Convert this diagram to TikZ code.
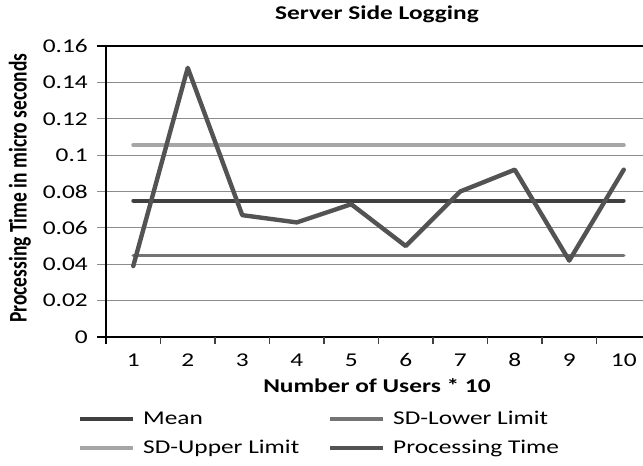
\documentclass[tikz,border=0pt]{standalone}
\usepackage{fontspec}
\setmainfont[FakeStretch=1.3]{Carlito}
\newfontfamily\plainfont{Carlito}
\usepackage{graphicx}
\usepackage{xcolor}
\usetikzlibrary{positioning}

\definecolor{darkline}{HTML}{404040}
\definecolor{midline}{HTML}{747474}
\definecolor{lightline}{HTML}{A6A6A6}
\definecolor{gridgray}{HTML}{8C8C8C}

\newcommand{\chartfont}{\fontsize{19.5}{20}\selectfont}

\begin{document}
\begin{tikzpicture}[x=1pt,y=1pt,
    every node/.style={inner sep=0pt, font=\chartfont},
    gridline/.style={draw=gridgray, line width=1.2pt},
    axisline/.style={draw=black, line width=2.2pt},
    tickline/.style={draw=darkline, line width=1.2pt},
    meanline/.style={draw=darkline, line width=3.8pt, line cap=round},
    lowerline/.style={draw=midline, line width=3.6pt, line cap=round},
    upperline/.style={draw=lightline, line width=4pt, line cap=round},
    timeline/.style={draw=darkline!90!white, line width=4.4pt, line cap=round, line join=round}]
    \useasboundingbox (0,0) rectangle (643,466);
    \fill[white] (0,0) rectangle (643,466);
    \def\xend{9.86}
    \begin{scope}[shift={(106,129)}, x=54.5pt, y=1818.75pt]
      % grid
      \draw[gridline] (-0.165,0.02) -- (\xend,0.02);
      \draw[gridline] (-0.165,0.04) -- (\xend,0.04);
      \draw[gridline] (-0.165,0.06) -- (\xend,0.06);
      \draw[gridline] (-0.165,0.08) -- (\xend,0.08);
      \draw[gridline] (-0.165,0.10) -- (\xend,0.10);
      \draw[gridline] (-0.165,0.12) -- (\xend,0.12);
      \draw[gridline] (-0.165,0.14) -- (\xend,0.14);
      \draw[axisline] (-0.165,0.16) -- (\xend,0.16);
      % axes
      \draw[axisline] (-0.165,0) -- (\xend,0);
      \draw[axisline] (0,-0.004) -- (0,0.16);
      \draw[tickline] (1,0) -- (1,-0.004);
      \draw[tickline] (2,0) -- (2,-0.004);
      \draw[tickline] (3,0) -- (3,-0.004);
      \draw[tickline] (4,0) -- (4,-0.004);
      \draw[tickline] (5,0) -- (5,-0.004);
      \draw[tickline] (6,0) -- (6,-0.004);
      \draw[tickline] (7,0) -- (7,-0.004);
      \draw[tickline] (8,0) -- (8,-0.004);
      \draw[tickline] (9,0) -- (9,-0.004);
      % y labels
      \node[anchor=east] (y0) at (-0.33,0) {0};
      \node[anchor=east] (y2) at (-0.33,0.02) {0.02};
      \node[anchor=east] (y4) at (-0.33,0.04) {0.04};
      \node[anchor=east] (y6) at (-0.33,0.06) {0.06};
      \node[anchor=east] (y8) at (-0.33,0.08) {0.08};
      \node[anchor=east] (y10) at (-0.33,0.10) {0.1};
      \node[anchor=east] (y12) at (-0.33,0.12) {0.12};
      \node[anchor=east] (y14) at (-0.33,0.14) {0.14};
      \node[anchor=east] (y16) at (-0.33,0.16) {0.16};
      % x labels
      \node[anchor=base] (x1) at (0.5,-0.0165) {1};
      \node[anchor=base] (x2) at (1.5,-0.0165) {2};
      \node[anchor=base] (x3) at (2.5,-0.0165) {3};
      \node[anchor=base] (x4) at (3.5,-0.0165) {4};
      \node[anchor=base] (x5) at (4.5,-0.0165) {5};
      \node[anchor=base] (x6) at (5.5,-0.0165) {6};
      \node[anchor=base] (x7) at (6.5,-0.0165) {7};
      \node[anchor=base] (x8) at (7.5,-0.0165) {8};
      \node[anchor=base] (x9) at (8.5,-0.0165) {9};
      \node[anchor=base] (x10) at (9.5,-0.0165) {10};
      % limits and mean
      \draw[upperline] (0.5,0.1055) -- (9.5,0.1055);
      \draw[meanline] (0.5,0.0749) -- (9.5,0.0749);
      \draw[lowerline] (0.5,0.0448) -- (9.5,0.0448);
      % measured times
      \draw[timeline] (0.5,0.039) -- (1.5,0.148) -- (2.5,0.067) -- (3.5,0.063)
        -- (4.5,0.073) -- (5.5,0.050) -- (6.5,0.080) -- (7.5,0.092)
        -- (8.5,0.042) -- (9.5,0.092);
    \end{scope}
    \node[anchor=base, font=\chartfont\bfseries] (title) at (377,446) {Server Side Logging};
    \node[anchor=base, font=\chartfont\bfseries] (xtitle) at (377,73) {Number of Users * 10};
    \node[rotate=90] (ytitle) at (20,278)
      {\plainfont\bfseries\scalebox{1}[1.3]{Processing Time in micro seconds}};
    % legend
    \node[anchor=base west] (meantxt) at (143,41) {Mean};
    \node[anchor=base west] (lowertxt) at (393,41) {SD-Lower Limit};
    \node[anchor=base west] (uppertxt) at (143,12) {SD-Upper Limit};
    \node[anchor=base west] (timetxt) at (393,12) {Processing Time};
    \draw[meanline, line cap=butt] ([shift={(-10pt,6pt)}]meantxt.base west) -- ++(-53,0);
    \draw[lowerline, line cap=butt] ([shift={(-10pt,6pt)}]lowertxt.base west) -- ++(-53,0);
    \draw[upperline, line cap=butt] ([shift={(-10pt,6pt)}]uppertxt.base west) -- ++(-53,0);
    \draw[timeline, line cap=butt] ([shift={(-10pt,6pt)}]timetxt.base west) -- ++(-53,0);
\end{tikzpicture}
\end{document}
